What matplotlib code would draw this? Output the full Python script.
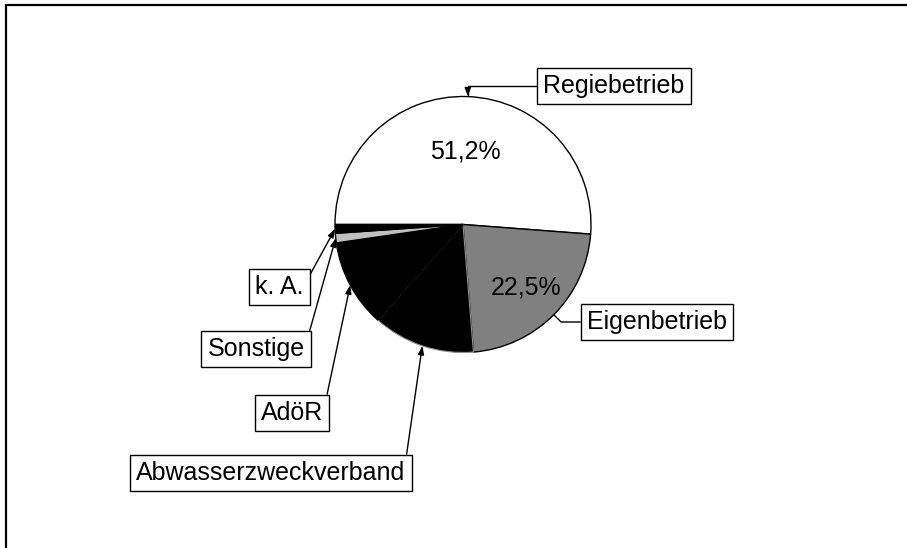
import numpy as np
import matplotlib; matplotlib.use("Agg"); import matplotlib.pyplot as plt
from matplotlib.patches import Rectangle

plt.rcParams["font.family"] = ["Liberation Sans", "DejaVu Sans"]

labels = ["Regiebetrieb", "Eigenbetrieb", "Abwasserzweckverband", "AdöR", "Sonstige", "k. A."]
shares = [51.2, 22.5, 12.9, 11.1, 1.2, 1.1]
colors = ["white", "#808080", "black", "black", "#c0c0c0", "black"]
show_pct = [True, True, False, False, False, False]

W, H = 907, 548
fig = plt.figure(figsize=(W / 100, H / 100), dpi=100)
ax = fig.add_axes([0, 0, 1, 1])

cx, cy, R = 463, H - 224.5, 128
wedges, _ = ax.pie(shares, colors=colors, startangle=180, counterclock=False,
                   center=(cx, cy), radius=R, frame=True,
                   wedgeprops=dict(edgecolor="black", linewidth=1))
ax.set_xlim(0, W); ax.set_ylim(0, H); ax.set_aspect("equal"); ax.axis("off")
wedges[2].set_edgecolor("#909090"); wedges[2].set_linewidth(0.8)

def edge_pt(w, frac=1.0):
    a = np.deg2rad((w.theta1 + w.theta2) / 2)
    return cx + frac * R * np.cos(a), cy + frac * R * np.sin(a)

# percentage labels inside the two big slices
pct_dist = [0.57, 0.70]
k = 0
for w, v, s in zip(wedges, shares, show_pct):
    if not s: continue
    x, y = edge_pt(w, pct_dist[k]); k += 1
    ax.text(x, y, f"{v:.1f}%".replace(".", ","), ha="center", va="center", fontsize=18)

# boxed labels with leader lines: (box centre in pixels from top-left, relpos, connection, arrow)
box_pos = {
    "Regiebetrieb": ((614, 86), (0, 0.5), "angle,angleA=0,angleB=90,rad=0", True),
    "Eigenbetrieb": ((657, 322), (0, 0.5), "angle,angleA=0,angleB=-45,rad=0", False),
    "Abwasserzweckverband": ((271, 473), (1, 1), "arc3", True),
    "AdöR": ((292, 413), (1, 0.5), "arc3", True),
    "Sonstige": ((256, 349), (1, 0.5), "arc3", True),
    "k. A.": ((279, 287), (1, 0.5), "arc3", True),
}
for w, lab in zip(wedges, labels):
    (bx, by), rel, conn, head = box_pos[lab]
    ap = dict(arrowstyle="-|>,head_length=0.28,head_width=0.1" if head else "-",
              color="black", lw=1, relpos=rel, connectionstyle=conn,
              shrinkA=0, shrinkB=0)
    ax.annotate(lab, xy=edge_pt(w), xytext=(bx, H - by), ha="center", va="center",
                fontsize=18, arrowprops=ap,
                bbox=dict(boxstyle="square,pad=0.25", fc="white", ec="black", lw=1))

# outer chart frame (left and top edges visible)
fig.add_artist(Rectangle((6 / W, -0.1), 1.2, 1.1 - 5 / H, transform=fig.transFigure,
                         fill=False, ec="black", lw=1.6))

fig.savefig("out.png", dpi=100)
